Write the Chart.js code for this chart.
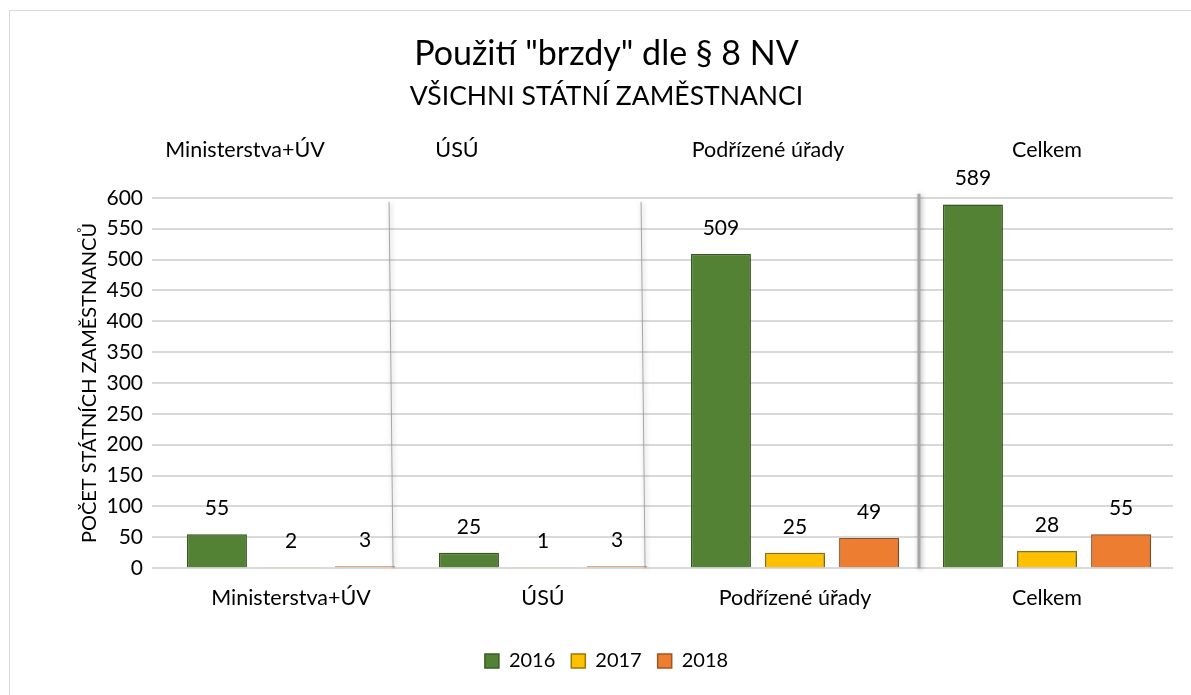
<!DOCTYPE html>
<html>
<head>
<meta charset="utf-8">
<script src="https://cdn.jsdelivr.net/npm/chart.js@4.4.0/dist/chart.umd.min.js"></script>
<style>
  html, body { margin: 0; padding: 0; background: #ffffff; }
  #wrap { position: relative; width: 1191px; height: 695px; }
  #frame { position: absolute; left: 9px; top: 10px; width: 1200px; height: 700px; border: 1px solid #d9d9d9; box-sizing: border-box; pointer-events: none; }
</style>
</head>
<body>
<div id="wrap">
  <canvas id="c" width="1191" height="695"></canvas>
  <div id="frame"></div>
</div>
<script>
const categories = ["Ministerstva+ÚV", "ÚSÚ", "Podřízené úřady", "Celkem"];
const seriesNames = ["2016", "2017", "2018"];
const values2016 = [55, 25, 509, 589];
const values2017 = [2, 1, 25, 28];
const values2018 = [3, 3, 49, 55];
const yTicks = [0, 50, 100, 150, 200, 250, 300, 350, 400, 450, 500, 550, 600];

const FONT = "Lato, 'Noto Sans', sans-serif";
const fills = ["#548235", "#FFC000", "#ED7D31"];
const borders = ["#3b5e24", "#9c7a00", "#a9531b"];
const topLabelShift = [-46, -86, -27, 0];

const shadowPlugin = {
  id: 'shadow',
  beforeDatasetsDraw(chart) {
    const ctx = chart.ctx;
    ctx.save();
    ctx.shadowColor = 'rgba(0,0,0,0.35)';
    ctx.shadowBlur = 5;
    ctx.shadowOffsetX = 1;
    ctx.shadowOffsetY = 1;
  },
  afterDatasetsDraw(chart) {
    chart.ctx.restore();
  }
};

const decorPlugin = {
  id: 'decor',
  beforeDatasetsDraw(chart) {
    const ctx = chart.ctx;
    const a = chart.chartArea;
    const x = chart.scales.x;
    const lastMeta = chart.getDatasetMeta(2);
    ctx.save();
    ctx.strokeStyle = '#a6a6a6';
    ctx.lineWidth = 1;
    for (let i = 0; i < 2; i++) {
      const bar = lastMeta.data[i];
      const px = bar.x + bar.width / 2 - 4;
      ctx.beginPath();
      ctx.moveTo(px - 2, a.top + 4);
      ctx.lineTo(px + 2, a.bottom);
      ctx.stroke();
    }
    const sx = (x.getPixelForValue(2) + x.getPixelForValue(3)) / 2 - 2;
    ctx.lineWidth = 3;
    ctx.beginPath();
    ctx.moveTo(sx, a.top - 4);
    ctx.lineTo(sx, a.bottom);
    ctx.stroke();
    ctx.restore();
  },
  afterDraw(chart) {
    const ctx = chart.ctx;
    const x = chart.scales.x;
    ctx.save();
    ctx.font = "21.5px " + FONT;
    ctx.fillStyle = '#000000';
    ctx.textAlign = 'center';
    ctx.textBaseline = 'middle';
    categories.forEach((c, i) => {
      ctx.fillText(c, x.getPixelForValue(i) + topLabelShift[i], chart.chartArea.top - 48);
    });
    ctx.font = "21px " + FONT;
    chart.data.datasets.forEach((ds, di) => {
      const meta = chart.getDatasetMeta(di);
      meta.data.forEach((bar, i) => {
        ctx.fillText(String(ds.data[i]), bar.x, bar.y - 26);
      });
    });
    ctx.restore();
  }
};

new Chart(document.getElementById('c'), {
  type: 'bar',
  data: {
    labels: categories,
    datasets: [
      { label: seriesNames[0], data: values2016, backgroundColor: fills[0], borderColor: borders[0], borderWidth: 1.5 },
      { label: seriesNames[1], data: values2017, backgroundColor: fills[1], borderColor: borders[1], borderWidth: 1.5 },
      { label: seriesNames[2], data: values2018, backgroundColor: fills[2], borderColor: borders[2], borderWidth: 1.5 }
    ]
  },
  options: {
    responsive: false,
    animation: false,
    layout: { padding: { left: 40, right: 18, top: 0, bottom: 14 } },
    datasets: { bar: { categoryPercentage: 0.882, barPercentage: 0.81 } },
    plugins: {
      title: {
        display: true,
        text: 'Použití "brzdy" dle § 8 NV',
        color: '#000000',
        font: { family: FONT, size: 34, weight: 'normal', lineHeight: 1.2 },
        padding: { top: 33.6, bottom: 4 }
      },
      subtitle: {
        display: true,
        text: 'VŠICHNI STÁTNÍ ZAMĚSTNANCI',
        color: '#000000',
        font: { family: FONT, size: 26.5, weight: 'normal', lineHeight: 1.2 },
        padding: { top: 2.6, bottom: 85 }
      },
      legend: {
        position: 'bottom',
        labels: {
          color: '#000000',
          font: { family: FONT, size: 20 },
          boxWidth: 14,
          boxHeight: 14,
          padding: 16,
          generateLabels(chart) {
            return chart.data.datasets.map((ds, i) => ({
              text: ds.label, fillStyle: ds.backgroundColor, strokeStyle: ds.borderColor,
              lineWidth: 1.5, datasetIndex: i, hidden: false, fontColor: '#000000'
            }));
          }
        }
      },
      tooltip: { enabled: false }
    },
    scales: {
      x: {
        grid: { display: false, drawTicks: false },
        border: { display: false },
        ticks: { color: '#000000', font: { family: FONT, size: 21.5 }, padding: 17 },
        afterFit(scale) { scale.height = scale.height + 7; }
      },
      y: {
        min: 0, max: 600,
        afterBuildTicks(scale) { scale.ticks = yTicks.map(v => ({ value: v })); },
        afterFit(scale) { scale.width = 125; },
        grid: { color: '#d9d9d9', lineWidth: 2, tickLength: 13, drawTicks: true },
        border: { display: false },
        ticks: { color: '#000000', font: { family: FONT, size: 21 }, padding: 9 },
        title: {
          display: true,
          text: 'POČET STÁTNÍCH ZAMĚSTNANCŮ',
          color: '#000000',
          font: { family: FONT, size: 20 },
          padding: { top: 38, bottom: 0 }
        }
      }
    }
  },
  plugins: [shadowPlugin, decorPlugin]
});
</script>
</body>
</html>
